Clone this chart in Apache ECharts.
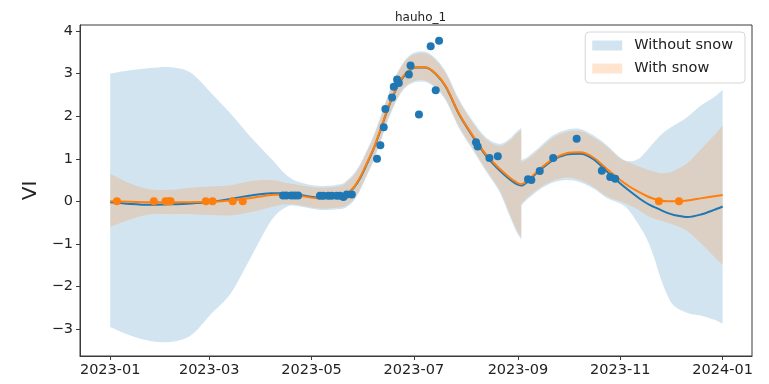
<!DOCTYPE html>
<html>
<head>
<meta charset="utf-8">
<title>hauho_1</title>
<script src="https://cdn.jsdelivr.net/npm/echarts@6/dist/echarts.min.js"></script>
<style>
  html, body { margin: 0; padding: 0; background: #ffffff; }
  #chart { width: 769px; height: 384px; }
</style>
</head>
<body>
<div id="chart"></div>
<script>
// Prediction grid (the date 2023-09-03 appears twice: the fit is split there)
const gridDates = ['2023-01-01','2023-01-13','2023-01-25','2023-02-06','2023-02-18','2023-03-02','2023-03-14','2023-03-26','2023-04-07',
  '2023-04-16','2023-04-24','2023-05-06','2023-05-18','2023-05-22','2023-05-26','2023-05-30','2023-06-03','2023-06-07','2023-06-11',
  '2023-06-15','2023-06-19','2023-06-23','2023-06-27','2023-07-02','2023-07-08','2023-07-14','2023-07-20','2023-07-28','2023-08-05',
  '2023-08-13','2023-08-21','2023-08-27','2023-08-31','2023-09-03','2023-09-03','2023-09-07','2023-09-14','2023-09-22','2023-09-30',
  '2023-10-08','2023-10-16','2023-10-24','2023-11-01','2023-11-06','2023-11-12','2023-11-17','2023-11-21','2023-11-25','2023-11-29',
  '2023-12-03','2023-12-11','2023-12-19','2023-12-27','2024-01-01'];

const meanWithSnow = [0.00,-0.01,-0.02,-0.02,-0.02,-0.01,0.02,0.08,0.15,
  0.16,0.13,0.07,0.10,0.18,0.32,0.57,0.90,1.25,1.68,
  2.14,2.53,2.84,3.04,3.15,3.15,3.00,2.70,2.05,1.55,
  1.10,0.77,0.56,0.45,0.40,0.40,0.50,0.76,1.00,1.13,
  1.15,1.03,0.76,0.50,0.36,0.22,0.12,0.06,0.02,0.00,
  0.00,0.02,0.07,0.12,0.15];
const upperWithSnow = [0.65,0.42,0.28,0.27,0.32,0.35,0.38,0.48,0.50,
  0.43,0.38,0.32,0.36,0.45,0.60,0.84,1.16,1.51,1.94,
  2.40,2.80,3.12,3.34,3.46,3.47,3.31,3.00,2.35,1.85,
  1.45,1.30,1.42,1.58,1.67,0.92,1.00,1.23,1.50,1.63,
  1.65,1.50,1.28,1.00,0.92,0.82,0.75,0.70,0.66,0.67,
  0.72,0.90,1.22,1.55,1.78];
const lowerWithSnow = [-0.60,-0.42,-0.30,-0.30,-0.30,-0.32,-0.33,-0.25,-0.13,
  -0.07,-0.09,-0.17,-0.14,-0.09,0.04,0.30,0.64,0.99,1.42,
  1.88,2.26,2.56,2.74,2.84,2.84,2.69,2.40,1.75,1.25,
  0.75,0.27,-0.28,-0.65,-0.84,-0.05,0.10,0.32,0.49,0.56,
  0.50,0.34,0.12,0.00,-0.08,-0.20,-0.33,-0.40,-0.45,-0.50,
  -0.55,-0.70,-0.98,-1.30,-1.50];

const meanWithoutSnow = [-0.02,-0.06,-0.08,-0.07,-0.05,-0.01,0.06,0.14,0.19,
  0.19,0.15,0.09,0.10,0.17,0.31,0.55,0.88,1.23,1.66,
  2.12,2.51,2.82,3.02,3.14,3.14,2.99,2.69,2.04,1.53,
  1.07,0.73,0.52,0.41,0.37,0.37,0.47,0.73,0.97,1.10,
  1.12,0.99,0.70,0.42,0.26,0.08,-0.05,-0.13,-0.20,-0.27,
  -0.32,-0.37,-0.31,-0.20,-0.12];
const upperWithoutSnow = [3.00,3.08,3.13,3.15,3.02,2.55,2.05,1.50,1.00,
  0.62,0.45,0.36,0.40,0.49,0.64,0.88,1.20,1.55,1.98,
  2.44,2.84,3.16,3.38,3.50,3.51,3.35,3.04,2.39,1.89,
  1.50,1.35,1.47,1.63,1.72,0.97,1.05,1.28,1.55,1.68,
  1.70,1.55,1.32,1.03,0.94,1.00,1.20,1.38,1.55,1.68,
  1.78,1.98,2.25,2.45,2.62];
const lowerWithoutSnow = [-2.95,-3.15,-3.28,-3.30,-3.15,-2.65,-2.15,-1.30,-0.45,
  -0.13,-0.12,-0.20,-0.18,-0.13,0.00,0.26,0.60,0.95,1.38,
  1.84,2.22,2.52,2.70,2.80,2.80,2.65,2.36,1.71,1.21,
  0.70,0.22,-0.34,-0.71,-0.90,-0.10,0.06,0.28,0.44,0.50,
  0.45,0.30,0.08,-0.05,-0.20,-0.55,-0.90,-1.30,-1.80,-2.20,
  -2.45,-2.62,-2.68,-2.78,-2.87];

// Observations
const obsDates = ['2023-04-14','2023-04-16','2023-04-19','2023-04-21','2023-04-23',
  '2023-05-06','2023-05-08','2023-05-11','2023-05-13','2023-05-16','2023-05-18','2023-05-20','2023-05-22','2023-05-25',
  '2023-06-09','2023-06-11','2023-06-13','2023-06-14','2023-06-18','2023-06-19','2023-06-21','2023-06-22','2023-06-28','2023-06-29',
  '2023-07-04','2023-07-11','2023-07-14','2023-07-16',
  '2023-08-07','2023-08-08','2023-08-15','2023-08-20',
  '2023-09-07','2023-09-09','2023-09-14','2023-09-22','2023-10-06','2023-10-21','2023-10-26','2023-10-29'];
const obsValues = [0.14,0.14,0.14,0.14,0.14,
  0.13,0.13,0.13,0.13,0.13,0.13,0.10,0.16,0.16,
  1.00,1.32,1.74,2.17,2.44,2.69,2.86,2.78,2.98,3.19,
  2.04,3.64,2.61,3.77,
  1.39,1.29,1.02,1.06,
  0.52,0.50,0.71,1.02,1.47,0.72,0.57,0.53];

const snowDates = ['2023-01-05','2023-01-27','2023-02-03','2023-02-05','2023-02-06','2023-02-27','2023-03-03','2023-03-15','2023-03-21',
  '2023-11-24','2023-12-06'];
const snowValues = [0,0,0,0,0,0,0,0,0,0,0];

const xTickLabels = ['2023-01','2023-03','2023-05','2023-07','2023-09','2023-11','2024-01'];
const yTickValues = [-3,-2,-1,0,1,2,3,4];

const DAY = 86400000;
function ts(s) {
  const p = s.split('-').map(Number);
  return Date.UTC(p[0], p[1] - 1, p.length > 2 ? p[2] : 1);
}
function pairs(dates, vals) { return dates.map((d, i) => [ts(d), vals[i]]); }
function ym(v) {
  const d = new Date(v);
  return d.getUTCFullYear() + '-' + String(d.getUTCMonth() + 1).padStart(2, '0');
}
const xTickValues = xTickLabels.map(ts);

const FONT = 'DejaVu Sans';
const BLUE = '#1f77b4', ORANGE = '#ff7f0e';
const BLUE_FILL = 'rgba(31,119,180,0.2)', ORANGE_FILL = 'rgba(255,127,14,0.2)';
const AXIS = '#3a3a3a';
const SMOOTH = 0.3;

// Catmull-Rom style cubic segments through screen points; a vertical step
// (two points at the same x) is kept as a straight edge.
function curveThrough(pts) {
  const same = (a, b) => Math.abs(a[0] - b[0]) < 0.5;
  let d = '';
  for (let i = 0; i < pts.length - 1; i++) {
    const p1 = pts[i], p2 = pts[i + 1];
    if (same(p1, p2)) { d += ' L' + p2[0] + ' ' + p2[1]; continue; }
    const p0 = (i > 0 && !same(pts[i - 1], p1)) ? pts[i - 1] : p1;
    const p3 = (i + 2 < pts.length && !same(pts[i + 2], p2)) ? pts[i + 2] : p2;
    const k = 1 / 6;
    const c1x = p1[0] + (p2[0] - p0[0]) * k, c1y = p1[1] + (p2[1] - p0[1]) * k;
    const c2x = p2[0] - (p3[0] - p1[0]) * k, c2y = p2[1] - (p3[1] - p1[1]) * k;
    d += ' C' + c1x + ' ' + c1y + ' ' + c2x + ' ' + c2y + ' ' + p2[0] + ' ' + p2[1];
  }
  return d;
}

// A band is drawn as one closed shape: upper edge forward, lower edge back.
function bandSeries(name, lower, upper, fill, z) {
  return {
    type: 'custom', name, z, silent: true, clip: true,
    encode: { x: 0, y: [1, 2] },
    data: gridDates.map((d, i) => [ts(d), lower[i], upper[i]]),
    renderItem(params, api) {
      if (params.dataIndexInside !== 0) return null;
      const n = params.dataInsideLength;
      const top = [], bottom = [];
      for (let j = 0; j < n; j++) {
        const x = api.value(0, j);
        top.push(api.coord([x, api.value(2, j)]));
        bottom.push(api.coord([x, api.value(1, j)]));
      }
      bottom.reverse();
      const d = 'M' + top[0][0] + ' ' + top[0][1] + curveThrough(top) +
        ' L' + bottom[0][0] + ' ' + bottom[0][1] + curveThrough(bottom) + ' Z';
      return { type: 'path', shape: { pathData: d }, style: { fill, stroke: null } };
    }
  };
}

const chart = echarts.init(document.getElementById('chart'), null, { renderer: 'canvas' });
chart.setOption({
  animation: false,
  textStyle: { fontFamily: FONT },
  title: {
    text: 'hauho_1', left: 390, top: 7,
    textStyle: { fontFamily: FONT, fontSize: 12, fontWeight: 'normal', color: '#222' }
  },
  legend: {
    orient: 'vertical', right: 24, top: 32,
    itemWidth: 30, itemHeight: 10, itemGap: 8,
    padding: [6, 12, 7, 7],
    backgroundColor: 'rgba(255,255,255,0.8)', borderColor: '#d6d6d6', borderWidth: 1, borderRadius: 4,
    selectedMode: false,
    textStyle: { fontFamily: FONT, fontSize: 14.5, color: '#222', padding: [0, 0, 0, 7] },
    data: [
      { name: 'Without snow', icon: 'rect', itemStyle: { color: BLUE_FILL, opacity: 1, borderWidth: 0 } },
      { name: 'With snow', icon: 'rect', itemStyle: { color: ORANGE_FILL, opacity: 1, borderWidth: 0 } }
    ]
  },
  grid: { left: 80, right: 17, top: 25, bottom: 28, show: true, borderColor: AXIS, borderWidth: 1, backgroundColor: 'transparent' },
  xAxis: {
    type: 'value',
    min: ts('2023-01-01') - 18 * DAY,
    max: ts('2023-01-01') + 382.5 * DAY,
    splitLine: { show: false },
    axisLine: { show: true, onZero: false, lineStyle: { color: AXIS, width: 1 } },
    axisTick: { show: true, length: 4, customValues: xTickValues, lineStyle: { color: AXIS } },
    axisLabel: { customValues: xTickValues, formatter: ym, fontFamily: FONT, fontSize: 14.5, color: '#222', margin: 7 }
  },
  yAxis: {
    type: 'value', min: -3.63, max: 4.14,
    name: 'VI', nameLocation: 'middle', nameGap: 37,
    nameTextStyle: { fontFamily: FONT, fontSize: 20, color: '#222' },
    splitLine: { show: false },
    axisLine: { show: true, onZero: false, lineStyle: { color: AXIS, width: 1 } },
    axisTick: { show: true, length: 4, customValues: yTickValues, lineStyle: { color: AXIS } },
    axisLabel: {
      customValues: yTickValues, fontFamily: FONT, fontSize: 14.5, color: '#222', margin: 7,
      formatter: v => (v < 0 ? '\u2212' + Math.abs(v) : String(v))
    }
  },
  series: [
    bandSeries('Without snow', lowerWithoutSnow, upperWithoutSnow, BLUE_FILL, 1),
    bandSeries('With snow', lowerWithSnow, upperWithSnow, ORANGE_FILL, 2),
    // Posterior means
    { type: 'line', name: 'meanWithout', data: pairs(gridDates, meanWithoutSnow), symbol: 'none',
      lineStyle: { color: BLUE, width: 2 }, silent: true, z: 3, smooth: SMOOTH },
    { type: 'line', name: 'meanWith', data: pairs(gridDates, meanWithSnow), symbol: 'none',
      lineStyle: { color: ORANGE, width: 2 }, silent: true, z: 4, smooth: SMOOTH },
    // Observations
    { type: 'scatter', name: 'obs', data: pairs(obsDates, obsValues), symbolSize: 8,
      itemStyle: { color: BLUE, opacity: 1 }, silent: true, z: 5 },
    { type: 'scatter', name: 'snow', data: pairs(snowDates, snowValues), symbolSize: 8,
      itemStyle: { color: ORANGE, opacity: 1 }, silent: true, z: 6 }
  ]
});
</script>
</body>
</html>
